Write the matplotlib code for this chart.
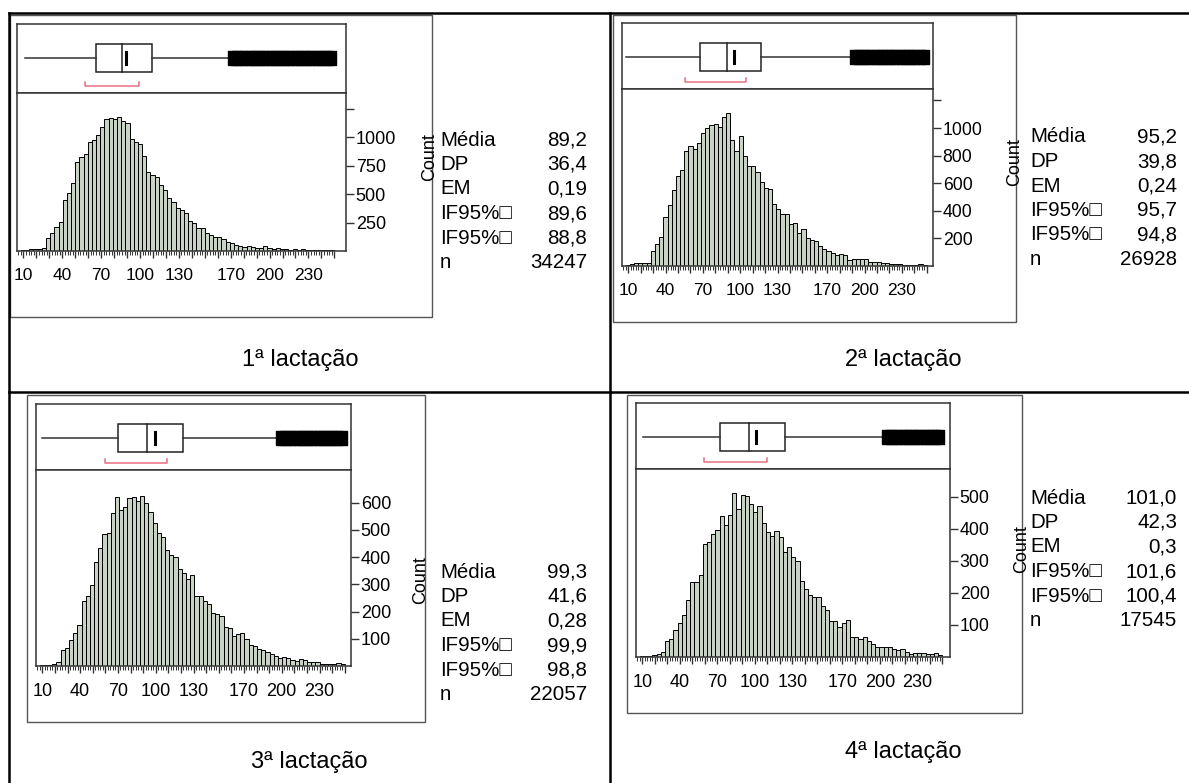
import numpy as np
import matplotlib.pyplot as plt
from matplotlib.lines import Line2D
from matplotlib.patches import Rectangle

plt.rcParams['font.family'] = ['Liberation Sans', 'DejaVu Sans']

# ---- data -------------------------------------------------------------
captions = ['1ª lactação', '2ª lactação', '3ª lactação', '4ª lactação']

stat_names = ['Média', 'DP', 'EM', 'IF95%\u25a1', 'IF95%\u25a1', 'n']
stats1 = ['89,2', '36,4', '0,19', '89,6', '88,8', '34247']
stats2 = ['95,2', '39,8', '0,24', '95,7', '94,8', '26928']
stats3 = ['99,3', '41,6', '0,28', '99,9', '98,8', '22057']
stats4 = ['101,0', '42,3', '0,3', '101,6', '100,4', '17545']

xtick_labels = [10, 40, 70, 100, 130, 170, 200, 230]

yticks1 = [250, 500, 750, 1000, 1250]
ylabels1 = ['250', '500', '750', '1000', '']
yticks2 = [200, 400, 600, 800, 1000, 1200]
ylabels2 = ['200', '400', '600', '800', '1000', '']
yticks3 = [100, 200, 300, 400, 500, 600]
ylabels3 = ['100', '200', '300', '400', '500', '600']
yticks4 = [100, 200, 300, 400, 500]
ylabels4 = ['100', '200', '300', '400', '500']

counts1 = [5, 10, 15, 20, 20, 25, 117, 155, 207, 251, 447, 506, 600, 784, 822, 848,
           959, 974, 1018, 1090, 1158, 1164, 1158, 1178, 1143, 1126, 980, 959, 939,
           833, 696, 667, 652, 579, 535, 462, 433, 374, 360, 330, 266, 243, 199, 199,
           155, 140, 126, 126, 102, 82, 73, 53, 44, 32, 47, 32, 23, 23, 44, 23, 15, 23,
           20, 15, 12, 18, 10, 15, 8, 12, 10, 6, 8, 10, 6]
counts2 = [10, 15, 20, 25, 25, 25, 109, 157, 210, 355, 440, 553, 650, 693, 831, 870,
           850, 891, 964, 1002, 1019, 1027, 1007, 1080, 1109, 911, 833, 942, 795, 725,
           725, 681, 609, 568, 556, 452, 415, 379, 379, 302, 312, 241, 271, 203, 186,
           179, 143, 126, 109, 97, 77, 89, 77, 46, 53, 53, 53, 53, 29, 29, 29, 24, 24,
           17, 17, 17, 10, 10, 10, 8, 17, 8]
counts3 = [3, 3, 5, 8, 15, 60, 66, 97, 123, 152, 238, 258, 297, 383, 432, 485, 487,
           561, 622, 573, 585, 616, 620, 607, 626, 598, 567, 524, 487, 475, 426, 407,
           399, 358, 340, 318, 334, 256, 256, 239, 229, 193, 190, 183, 143, 141, 109,
           117, 121, 101, 76, 72, 64, 58, 52, 45, 36, 29, 33, 31, 23, 17, 25, 21, 15,
           15, 15, 9, 9, 8, 9, 12, 6]
counts4 = [2, 3, 2, 5, 10, 16, 50, 55, 84, 107, 132, 179, 234, 234, 255, 353, 358,
           384, 395, 440, 413, 444, 511, 463, 505, 503, 479, 453, 472, 419, 389, 379,
           392, 374, 329, 342, 311, 300, 237, 211, 195, 187, 187, 158, 147, 111, 111,
           93, 107, 116, 63, 63, 55, 63, 50, 42, 32, 32, 32, 32, 26, 21, 26, 16, 10,
           13, 13, 13, 8, 8, 13, 5]

# whisker low, Q1, median, mean, Q3, whisker high, shortest-half low/high
box1 = [11, 66, 86, 89.2, 109, 170, 57.5, 99]
box2 = [8.6, 67.4, 89.5, 95.2, 117, 188.5, 56, 104.7]
box3 = [9.5, 70.4, 93, 99.3, 121.4, 198, 59.5, 108.7]
box4 = [10.3, 72, 95, 101.0, 124.4, 203, 59, 109.4]

data_lo, data_hi = 8, 250

# ---- layout (pixels, origin top-left) ---------------------------------
W, H = 1189, 783
fig = plt.figure(figsize=(W / 100, H / 100), dpi=100)


def px_axes(x0, y0, x1, y1):
    return fig.add_axes([x0 / W, 1 - y1 / H, (x1 - x0) / W, (y1 - y0) / H])


def fline(xs, ys, **kw):
    fig.add_artist(Line2D([x / W for x in xs], [1 - y / H for y in ys],
                          transform=fig.transFigure, **kw))


def frect(x0, y0, x1, y1, **kw):
    fig.add_artist(Rectangle((x0 / W, 1 - y1 / H), (x1 - x0) / W, (y1 - y0) / H,
                             transform=fig.transFigure, fill=False, **kw))


panels = [
    dict(counts=counts1, box=box1, stats=stats1, cap=captions[0],
         yticks=yticks1, ylabels=ylabels1, ytop=1386,
         frame=(10, 15, 432, 317), inner=(17, 24, 346, 93, 251), xmax=259,
         xfs=12.5, yfs=13,
         count_xy=(430, 157), stat_x=(440, 587), stat_y=140, cap_xy=(300, 360)),
    dict(counts=counts2, box=box2, stats=stats2, cap=captions[1],
         yticks=yticks2, ylabels=ylabels2, ytop=1283,
         frame=(613, 15, 1016, 322), inner=(622, 23, 933, 89, 266), xmax=255,
         xfs=12.5, yfs=12.7,
         count_xy=(1015, 162), stat_x=(1030, 1177), stat_y=137, cap_xy=(903, 360)),
    dict(counts=counts3, box=box3, stats=stats3, cap=captions[2],
         yticks=yticks3, ylabels=ylabels3, ytop=720,
         frame=(27, 395, 425, 722), inner=(36, 404, 351, 470, 666), xmax=255,
         xfs=13, yfs=13,
         count_xy=(421, 580), stat_x=(440, 587), stat_y=572, cap_xy=(309, 762)),
    dict(counts=counts4, box=box4, stats=stats4, cap=captions[3],
         yticks=yticks4, ylabels=ylabels4, ytop=587,
         frame=(627, 395, 1022, 713), inner=(636, 403, 950, 469, 657), xmax=256,
         xfs=13, yfs=12.8,
         count_xy=(1022, 549), stat_x=(1030, 1177), stat_y=498, cap_xy=(903, 752)),
]

frame_col = '#555555'
axis_col = '#333333'
bar_col = '#c9d3c5'
red = '#ea6f80'
# tall block used for each outlier point
out_marker = [(-0.55, -1), (0.55, -1), (0.55, 1), (-0.55, 1), (-0.55, -1)]

for p in panels:
    counts = np.array(p['counts'])
    edges = np.linspace(data_lo, data_hi, len(counts) + 1)
    centers = (edges[:-1] + edges[1:]) / 2
    x0, top, x1, sep, base = p['inner']
    frect(*p['frame'], color=frame_col, lw=1.0)

    # box plot strip
    axb = px_axes(x0, top, x1, sep)
    axb.set_xlim(5, p['xmax'])
    axb.set_ylim(sep - top, 0)
    axb.set_xticks([])
    axb.set_yticks([])
    for s in axb.spines.values():
        s.set_color(axis_col)
        s.set_linewidth(1.1)
    wlo, q1, med, mean, q3, whi, sh_lo, sh_hi = p['box']
    yc = 34
    axb.plot([wlo, q1], [yc, yc], color=axis_col, lw=1.1)
    axb.plot([q3, whi], [yc, yc], color=axis_col, lw=1.1)
    axb.add_patch(Rectangle((q1, 20), q3 - q1, 28, fill=False, ec='#222222', lw=1.1))
    axb.plot([med, med], [20, 48], color='#222222', lw=1.1)
    axb.plot([mean, mean], [28, 40], color='black', lw=2.2)
    out = centers[(centers > whi) & (counts > 0)]
    axb.plot(out, np.full(len(out), yc), linestyle='none', marker=out_marker,
             ms=10.5, color='black', mec='black', mew=1.0)
    yb = sep - top - 7
    axb.plot([sh_lo, sh_lo, sh_hi, sh_hi], [yb - 4, yb, yb, yb - 4], color=red, lw=1.1)

    # histogram
    axh = px_axes(x0, sep, x1, base)
    axh.bar(edges[:-1], counts, width=np.diff(edges), align='edge',
            color=bar_col, edgecolor='black', linewidth=0.7)
    axh.set_xlim(5, p['xmax'])
    axh.set_ylim(0, p['ytop'])
    for s in axh.spines.values():
        s.set_color(axis_col)
        s.set_linewidth(1.1)
    axh.yaxis.tick_right()
    axh.set_yticks(p['yticks'])
    axh.set_yticklabels(p['ylabels'])
    axh.tick_params(axis='y', direction='out', length=6, width=1, color=axis_col,
                    labelsize=p['yfs'], pad=1)
    axh.set_xticks(np.arange(10, 251, 10))
    axh.set_xticks(np.arange(6, 251, 2), minor=True)
    axh.set_xticklabels([str(v) if v in xtick_labels else '' for v in range(10, 251, 10)])
    axh.tick_params(axis='x', which='major', direction='out', length=5, width=1,
                    color=axis_col, labelsize=p['xfs'], pad=7)
    axh.tick_params(axis='x', which='minor', direction='out', length=3, width=0.7,
                    color=axis_col)

    # labels and summary table
    cx, cy = p['count_xy']
    fig.text(cx / W, 1 - cy / H, 'Count', rotation=90, ha='center', va='center',
             fontsize=13)
    lx, rx = p['stat_x']
    for i, (name, val) in enumerate(zip(stat_names, p['stats'])):
        y = p['stat_y'] + i * 24.5
        fig.text(lx / W, 1 - y / H, name, ha='left', va='center', fontsize=14.8)
        fig.text(rx / W, 1 - y / H, val, ha='right', va='center', fontsize=14.8)
    capx, capy = p['cap_xy']
    fig.text(capx / W, 1 - capy / H, p['cap'], ha='center', va='center', fontsize=17)

# table rules
fline([9, W], [13, 13], color='black', lw=1.8)
fline([9, 9], [13, H], color='black', lw=1.8)
fline([610, 610], [13, H], color='black', lw=1.8)
fline([9, W], [392, 392], color='black', lw=1.8)

fig.savefig('out.png', dpi=100)
